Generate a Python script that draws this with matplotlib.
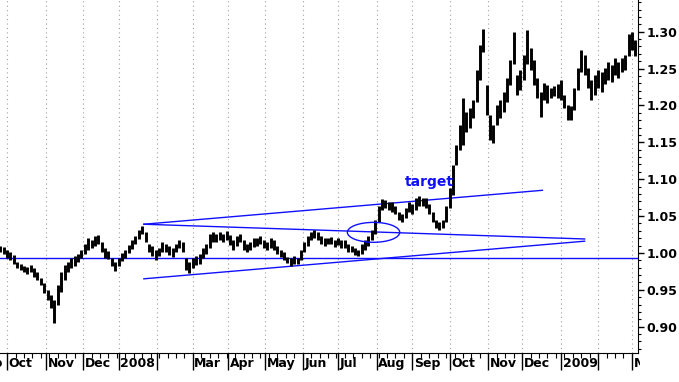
import numpy as np
import pandas as pd
import matplotlib
matplotlib.use('Agg')
import matplotlib.pyplot as plt
from matplotlib.patches import Ellipse
from matplotlib.transforms import Bbox, blended_transform_factory

# price bars, one every two trading days starting 2007-09-25
lows = [1.001, 0.999, 0.993, 0.990, 0.985, 0.980, 0.977, 0.974, 0.972, 0.974,
        0.967, 0.963, 0.957, 0.946, 0.936, 0.925, 0.905, 0.930, 0.947, 0.963,
        0.974, 0.980, 0.982, 0.988, 0.993, 0.999, 1.004, 1.007, 1.009, 1.012,
        1.001, 0.993, 0.992, 0.982, 0.976, 0.982, 0.989, 0.993, 1.000, 1.005,
        1.012, 1.019, 1.026, 1.015, 1.001, 0.996, 0.990, 0.996, 1.001, 1.001,
        0.997, 0.995, 1.001, 1.007, 1.001, 0.977, 0.973, 0.980, 0.984, 0.985,
        0.993, 0.999, 1.007, 1.015, 1.015, 1.018, 1.015, 1.018, 1.011, 1.004,
        1.009, 1.015, 1.004, 1.001, 1.004, 1.008, 1.009, 1.012, 1.007, 1.004,
        1.007, 1.004, 0.999, 0.995, 0.990, 0.986, 0.982, 0.985, 0.985, 0.990,
        1.001, 1.009, 1.018, 1.020, 1.018, 1.012, 1.009, 1.012, 1.012, 1.008,
        1.011, 1.007, 1.007, 1.001, 1.001, 0.997, 0.996, 0.999, 1.004, 1.009,
        1.018, 1.026, 1.042, 1.058, 1.061, 1.058, 1.056, 1.053, 1.045, 1.042,
        1.047, 1.056, 1.053, 1.058, 1.064, 1.064, 1.061, 1.053, 1.042, 1.034,
        1.031, 1.034, 1.042, 1.061, 1.079, 1.119, 1.140, 1.146, 1.164, 1.169,
        1.183, 1.205, 1.235, 1.273, 1.187, 1.153, 1.149, 1.174, 1.183, 1.191,
        1.205, 1.228, 1.256, 1.214, 1.221, 1.235, 1.256, 1.248, 1.228, 1.210,
        1.184, 1.207, 1.203, 1.210, 1.213, 1.210, 1.207, 1.197, 1.180, 1.180,
        1.194, 1.221, 1.245, 1.241, 1.224, 1.207, 1.214, 1.224, 1.218, 1.229,
        1.235, 1.232, 1.241, 1.237, 1.245, 1.248, 1.267, 1.275, 1.267]
highs = [1.009, 1.008, 1.004, 1.001, 0.997, 0.988, 0.985, 0.982, 0.981, 0.984,
         0.980, 0.974, 0.966, 0.959, 0.950, 0.943, 0.936, 0.957, 0.974, 0.984,
         0.988, 0.993, 0.996, 0.999, 1.004, 1.012, 1.020, 1.018, 1.023, 1.024,
         1.015, 1.007, 1.003, 0.993, 0.988, 0.993, 1.000, 1.004, 1.011, 1.018,
         1.023, 1.031, 1.037, 1.028, 1.012, 1.009, 1.004, 1.007, 1.015, 1.012,
         1.009, 1.007, 1.012, 1.018, 1.015, 0.993, 0.988, 0.993, 0.996, 0.999,
         1.007, 1.012, 1.026, 1.028, 1.026, 1.028, 1.026, 1.030, 1.024, 1.018,
         1.023, 1.026, 1.018, 1.012, 1.015, 1.020, 1.020, 1.023, 1.018, 1.015,
         1.020, 1.018, 1.009, 1.004, 1.001, 0.995, 0.993, 0.996, 0.993, 1.004,
         1.015, 1.023, 1.028, 1.031, 1.028, 1.023, 1.020, 1.020, 1.022, 1.018,
         1.020, 1.018, 1.018, 1.012, 1.009, 1.007, 1.004, 1.012, 1.018, 1.023,
         1.031, 1.045, 1.064, 1.073, 1.072, 1.069, 1.069, 1.064, 1.056, 1.053,
         1.061, 1.069, 1.066, 1.075, 1.077, 1.075, 1.075, 1.066, 1.056, 1.045,
         1.042, 1.045, 1.064, 1.088, 1.119, 1.146, 1.174, 1.210, 1.191, 1.197,
         1.207, 1.248, 1.282, 1.304, 1.228, 1.187, 1.174, 1.201, 1.207, 1.218,
         1.237, 1.262, 1.300, 1.241, 1.248, 1.268, 1.302, 1.278, 1.262, 1.237,
         1.218, 1.231, 1.228, 1.224, 1.226, 1.229, 1.235, 1.214, 1.201, 1.199,
         1.224, 1.251, 1.275, 1.268, 1.251, 1.235, 1.241, 1.248, 1.245, 1.251,
         1.259, 1.255, 1.264, 1.259, 1.264, 1.268, 1.297, 1.300, 1.289]

# drawn lines: (start date, end date), (start value, end value)
support_level = 0.993
upper_dates, upper_vals = ['2008-01-22', '2008-12-17'], [1.039, 1.085]
upper_flat_dates, upper_flat_vals = ['2008-01-22', '2009-01-21'], [1.039, 1.019]
lower_dates, lower_vals = ['2008-01-22', '2009-01-21'], [0.965, 1.016]
ellipse_date, ellipse_val = '2008-07-30', 1.028
target_date, target_val = '2008-09-15', 1.096

yticks = [0.90, 0.95, 1.00, 1.05, 1.10, 1.15, 1.20, 1.25, 1.30]

# trading-day axis
days = pd.bdate_range('2007-09-04', '2009-03-31')
start = days.get_loc(pd.Timestamp('2007-09-25'))
def pos(d):
    return days.get_loc(pd.Timestamp(d)) - start

bar_x = np.arange(len(lows)) * 2

fig = plt.figure(figsize=(6.79, 3.82), dpi=100)
ax = fig.add_axes([0, 0.0759, 0.9396, 0.9241])

# month grid / ticks
firsts = list(days.to_series().groupby(days.to_period('M')).first())
month_x = [pos(d) for d in firsts]
for x in month_x:
    ax.axvline(x, color='#a0a0a0', ls=(0, (1, 3)), lw=0.8, zorder=0)

mondays = [pos(d) for d in days if d.weekday() == 0]

ax.vlines(bar_x, lows, highs, color='black', lw=2.1, zorder=3)

blue = '#1010ff'
ax.axhline(support_level, color=blue, lw=1.0, zorder=2)
ax.plot([pos(d) for d in upper_dates], upper_vals, color=blue, lw=1.0)
ax.plot([pos(d) for d in upper_flat_dates], upper_flat_vals, color=blue, lw=1.0)
ax.plot([pos(d) for d in lower_dates], lower_vals, color=blue, lw=1.0)
ax.add_patch(Ellipse((pos(ellipse_date), ellipse_val), 31, 0.027,
                     fill=False, edgecolor=blue, lw=1.0, zorder=4))
ax.text(pos(target_date), target_val, 'target', color=blue, fontsize=10,
        fontweight='bold', ha='center', va='center')

for s in ['left', 'top']:
    ax.spines[s].set_visible(False)
ax.yaxis.tick_right()
ax.set_yticks(yticks)
ax.set_yticklabels(['%.2f' % v for v in yticks], fontsize=9, fontweight='bold')
ax.set_yticks(np.arange(0.87, 1.345, 0.01), minor=True)
ax.tick_params(axis='y', which='major', length=4, width=1, pad=2)
ax.tick_params(axis='y', which='minor', length=2.5, width=0.8)

ax.set_xticks(month_x)
ax.set_xticks(mondays, minor=True)
ax.set_xticklabels([])
ax.tick_params(axis='x', which='major', length=12, width=1)
ax.tick_params(axis='x', which='minor', length=3.5, width=0.8)

# limits after ticks so set_xticks does not widen the view
ax.set_xlim(-0.2, 377.6)
ax.set_ylim(0.8644, 1.343)

trans = blended_transform_factory(ax.transData, ax.transAxes)
clip = Bbox.from_extents(0, 0, 640, 382)
for d, x in zip(firsts, month_x):
    if d.month == 2 or x < -20 or x > 380:
        continue
    lab = str(d.year) if d.month == 1 else d.strftime('%b')
    t = ax.text(x + 0.9, -0.012, lab, transform=trans, fontsize=9,
                fontweight='bold', ha='left', va='top', clip_on=False)
    t.set_clip_box(clip)
    t.set_clip_on(True)

fig.savefig('out.png', dpi=100)
